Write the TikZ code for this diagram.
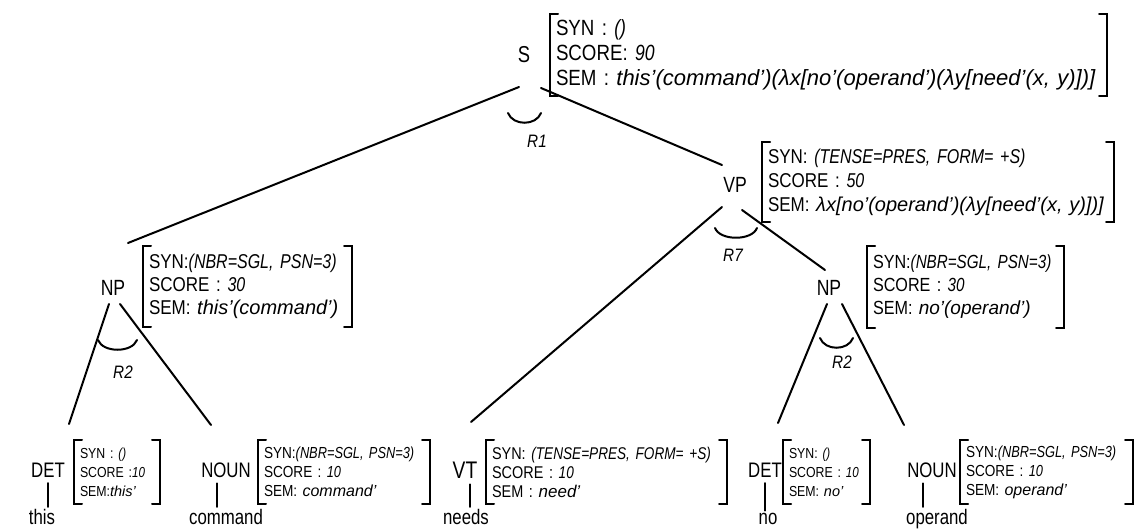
\documentclass[tikz,border=0pt]{standalone}
\usepackage{fontspec}
\setmainfont{Liberation Sans}
\newfontfamily\keyf[FakeStretch=0.85]{Liberation Sans}
\newfontfamily\synf[FakeStretch=0.8]{Liberation Sans}
\newfontfamily\lblf[FakeStretch=0.8]{Liberation Sans}
\newcommand{\synval}[1]{{\synf\itshape #1}}
\newcommand{\semval}[1]{{\rmfamily\itshape #1}}
\tikzset{
  cat/.style={font=\lblf\fontsize{21}{21}\selectfont, inner sep=1pt},
  word/.style={font=\lblf\fontsize{21}{21}\selectfont, inner sep=1pt, anchor=base},
  feat/.style={anchor=north west, align=left, inner xsep=5pt, inner ysep=0pt},
  rulename/.style={font=\keyf\itshape\fontsize{18}{18}\selectfont, inner sep=1pt},
}
% square brackets round a feature node
\newcommand{\fbrk}[1]{%
  \draw (#1.north west) ++(8,0) -- (#1.north west) -- (#1.south west) -- ++(8,0);
  \draw (#1.north east) ++(-8,0) -- (#1.north east) -- (#1.south east) -- ++(-8,0);}
% little arc above a rule name
\newcommand{\rarc}[3]{%
  \draw ([shift={(#2)}]#1.center) .. controls +(5,13) and +(-5,13) .. ([shift={(#3)}]#1.center);}

\begin{document}
\begin{tikzpicture}[x=1pt, y=-1pt, line width=2pt, line cap=round]
\useasboundingbox (0,0) rectangle (1138,529);
\fill[white] (0,0) rectangle (1138,529);

% categories
\node[cat, font=\lblf\fontsize{23}{23}\selectfont] (s) at (524,55) {S};
\node[cat, font=\lblf\fontsize{22}{22}\selectfont] (vp) at (735,185) {VP};
\node[cat, font=\lblf\fontsize{22}{22}\selectfont] (np) at (113,288) {NP};
\node[cat, font=\lblf\fontsize{22}{22}\selectfont] (np2) at (829,288) {NP};
\node[cat] (detA) at (48,470) {DET};
\node[cat] (nounA) at (226,470) {NOUN};
\node[cat, font=\lblf\fontsize{24}{24}\selectfont] (vt) at (465,470) {VT};
\node[cat] (detB) at (765,470) {DET};
\node[cat] (nounB) at (932,470) {NOUN};

% words
\node[word] (this) at (42,524) {this};
\node[word] (command) at (226,524) {command};
\node[word] (needs) at (466,524) {needs};
\node[word] (no) at (768,524) {no};
\node[word] (operand) at (937,524) {operand};

% feature structures
\node[feat, text width=545, minimum height=80, font=\keyf\fontsize{22}{25}\selectfont] (fs) at (550,14)
  {SYN : \synval{()}\\ SCORE: \synval{90}\\ SEM : \semval{this'(command')(λx[no'(operand')(λy[need'(x, y)])]}};
\node[feat, text width=340, minimum height=78, font=\keyf\fontsize{20}{24}\selectfont] (fvp) at (762,142)
  {SYN: \synval{(TENSE=PRES, FORM= +S)}\\ SCORE : \synval{50}\\ SEM: \semval{λx[no'(operand')(λy[need'(x, y)])]}};
\node[feat, text width=197, minimum height=79, font=\keyf\fontsize{20}{23}\selectfont] (fnp) at (143,246)
  {SYN:\synval{(NBR=SGL, PSN=3)}\\ SCORE : \synval{30}\\ SEM: \semval{this'(command')}};
\node[feat, text width=185, minimum height=80, font=\keyf\fontsize{19}{23}\selectfont] (fnp2) at (867,246)
  {SYN:\synval{(NBR=SGL, PSN=3)}\\ SCORE : \synval{30}\\ SEM: \semval{no'(operand')}};
\node[feat, text width=74, minimum height=62, font=\keyf\fontsize{14.5}{19}\selectfont] (fdetA) at (74,440)
  {SYN : \synval{()}\\ SCORE :\synval{10}\\ SEM:\semval{this'}};
\node[feat, text width=160, minimum height=62, font=\keyf\fontsize{16}{19}\selectfont] (fnounA) at (258,440)
  {SYN:\synval{(NBR=SGL, PSN=3)}\\ SCORE : \synval{10}\\ SEM: \semval{command'}};
\node[feat, text width=229, minimum height=62, font=\keyf\fontsize{17}{19}\selectfont] (fvt) at (486,440)
  {SYN: \synval{(TENSE=PRES, FORM= +S)}\\ SCORE : \synval{10}\\ SEM : \semval{need'}};
\node[feat, text width=75, minimum height=62, font=\keyf\fontsize{14.5}{19}\selectfont] (fdetB) at (783,440)
  {SYN: \synval{()}\\ SCORE : \synval{10}\\ SEM: \semval{no'}};
\node[feat, text width=161, minimum height=62, font=\keyf\fontsize{16}{19}\selectfont] (fnounB) at (960,440)
  {SYN:\synval{(NBR=SGL, PSN=3)}\\ SCORE : \synval{10}\\ SEM: \semval{operand'}};
\foreach \f in {fs,fvp,fnp,fnp2,fdetA,fnounA,fvt,fdetB,fnounB}
  {\fbrk{\f}}

% branches
\draw ([shift={(-5,32)}]s.center) -- ([shift={(15,-45)}]np.center);
\draw ([shift={(17,33)}]s.center) -- ([shift={(-13,-20)}]vp.center);
\draw ([shift={(-13,22)}]vp.center) -- ([shift={(6,-48)}]vt.center);
\draw ([shift={(7,25)}]vp.center) -- ([shift={(-4,-18)}]np2.center);
\draw ([shift={(-4,16)}]np.center) -- ([shift={(21,-46)}]detA.center);
\draw ([shift={(7,16)}]np.center) -- ([shift={(-15,-45)}]nounA.center);
\draw ([shift={(-2,16)}]np2.center) -- ([shift={(13,-47)}]detB.center);
\draw ([shift={(13,16)}]np2.center) -- ([shift={(-28,-45)}]nounB.center);
\foreach \c/\w/\dx in {detA/this/0, nounA/command/-9, vt/needs/5, detB/no/0, nounB/operand/-9}
  \draw ([shift={(\dx,4)}]\c.south) -- ([xshift=\dx]\c.south |- \w.north);

% rules
\node[rulename] (r1) at (537,141) {R1};
\node[rulename] (r7) at (733,255) {R7};
\node[rulename] (r2a) at (123,372) {R2};
\node[rulename] (r2b) at (842,362) {R2};
\rarc{r1}{-29,-28}{4,-28}
\rarc{r7}{-18,-27}{24,-27}
\rarc{r2a}{-25,-32}{14,-32}
\rarc{r2b}{-22,-24}{11,-24}
\end{tikzpicture}
\end{document}
